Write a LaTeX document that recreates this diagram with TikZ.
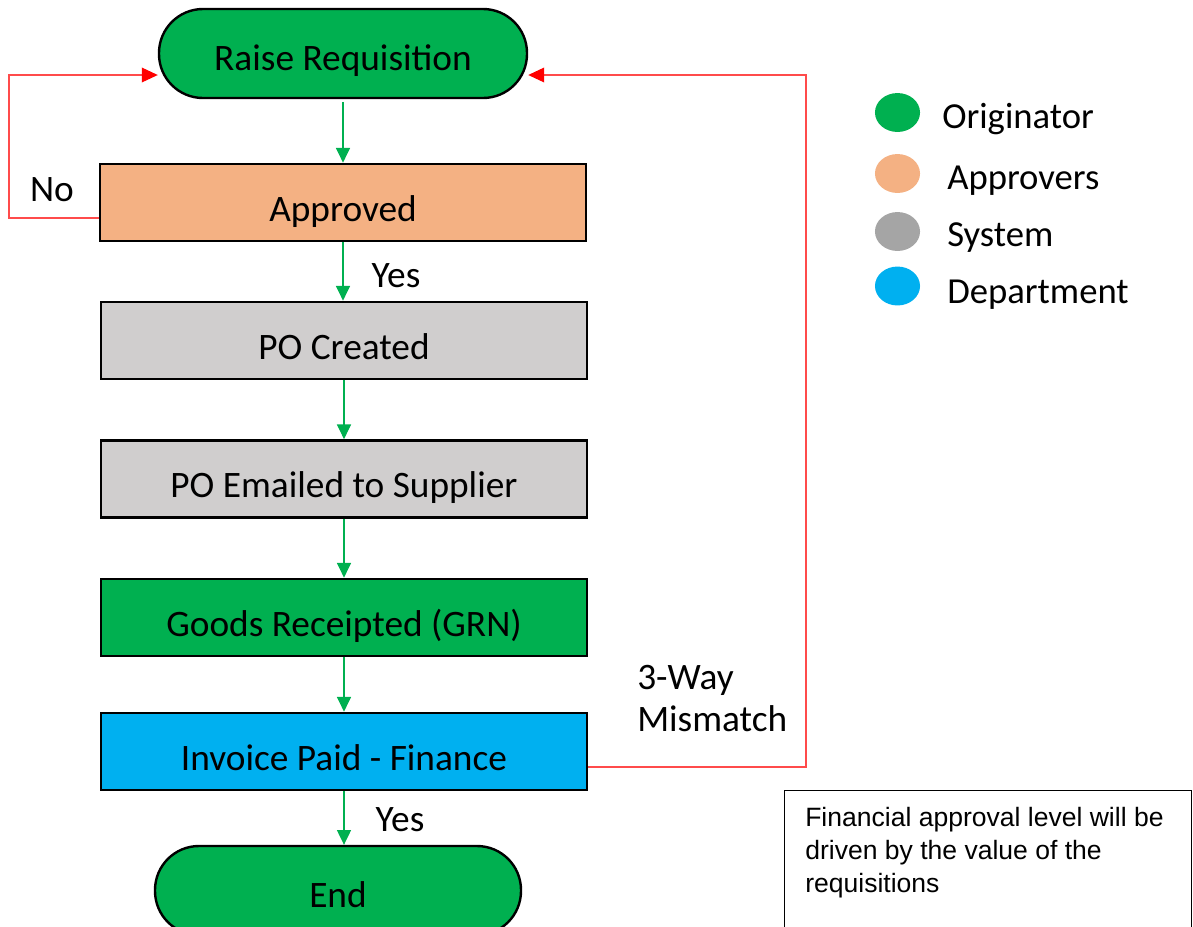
\documentclass[tikz,border=0pt]{standalone}
\usepackage{fontspec}
\setmainfont{Carlito}
\newfontfamily\notefont{Liberation Sans}
\usetikzlibrary{arrows.meta}
\definecolor{cgreen}{RGB}{0,176,80}
\definecolor{corange}{RGB}{244,177,131}
\definecolor{cgray}{RGB}{208,206,206}
\definecolor{clgray}{RGB}{165,165,165}
\definecolor{cblue}{RGB}{0,176,240}
\definecolor{cred}{RGB}{255,75,75}
\newcommand\flowfont{\fontsize{28}{32}\selectfont}
\tikzset{
  proc/.style={draw=black, line width=1.8pt, minimum width=364.5pt, minimum height=58pt, inner sep=0pt, text height=28pt, text depth=0pt, font=\flowfont},
  term/.style={draw=black, line width=1.8pt, minimum height=66.75pt, rounded corners=33pt, inner sep=0pt, text height=26pt, text depth=0pt, font=\flowfont},
  garrow/.style={draw=cgreen, line width=0.8pt, -{Triangle[width=10.5pt,length=11pt]}},
  rline/.style={draw=cred, line width=1pt, -{Triangle[width=11pt,length=12pt,color=red]}},
  lbl/.style={font=\flowfont, inner sep=0pt},
  legtxt/.style={font=\fontsize{27.5}{32}\selectfont, anchor=west, inner sep=0pt}
}
\begin{document}
\begin{tikzpicture}[x=0.75pt,y=-0.75pt]
\useasboundingbox (0,0) rectangle (1193,926);
\clip (0,0) rectangle (1193,926);
% flow nodes
\node[term, fill=cgreen, minimum width=276pt] (raise) at (343,53.5) {Raise Requisition};
\node[proc, fill=corange] (appr) at (343,202.5) {Approved};
\node[proc, fill=cgray] (poc) at (344,340.5) {PO Created};
\node[proc, fill=cgray] (poe) at (344,479) {PO Emailed to Supplier};
\node[proc, fill=cgreen] (grn) at (344,617.5) {Goods Receipted (GRN)};
\node[proc, fill=cblue] (inv) at (344,751.5) {Invoice Paid - Finance};
\node[term, fill=cgreen, minimum width=274.5pt] (end) at (338,890.5) {End};
% green connectors
\draw[garrow] ([yshift=-2pt]raise.south) -- (raise.south |- appr.north);
\draw[garrow] (appr.south) -- (appr.south |- poc.north);
\draw[garrow] (poc.south) -- (poe.north);
\draw[garrow] (poe.south) -- (grn.north);
\draw[garrow] (grn.south) -- (inv.north);
\draw[garrow] (inv.south) -- (inv.south |- end.north);
% red loops
\coordinate (nIn) at (raise.west |- 0,75);
\coordinate (mIn) at (raise.east |- 0,75);
\draw[rline] (appr.west |- 0,218) -- (9,218) |- (nIn);
\draw[rline] (inv.east |- 0,767) -| (806,75) -- (mIn);
% labels
\node[lbl] (no) at (52,190) {No};
\node[lbl] (yes1) at (396,276) {Yes};
\node[lbl] (yes2) at (400,820) {Yes};
\node[lbl, anchor=west, align=left, font=\fontsize{28}{31.5}\selectfont] (mism) at (637,699) {3-Way\\Mismatch};
% legend
\fill[cgreen] (897.5,112.5) ellipse [x radius=16.9pt, y radius=14.6pt];
\fill[corange] (897.5,173.5) ellipse [x radius=16.9pt, y radius=14.6pt];
\fill[clgray] (897.5,231.5) ellipse [x radius=16.9pt, y radius=14.6pt];
\fill[cblue] (897.5,286) ellipse [x radius=16.9pt, y radius=14.6pt];
\node[legtxt] (l1) at (942,119) {Originator};
\node[legtxt] (l2) at (947,181) {Approvers};
\node[legtxt] (l3) at (947,238) {System};
\node[legtxt] (l4) at (947,295) {Department};
% note
\node[draw=black, line width=1pt, anchor=north west, minimum width=305pt, minimum height=150pt, inner sep=0pt] (notebox) at (784,790) {};
\node[anchor=north west, align=left, inner sep=0pt, font=\notefont\fontsize{19.9}{24.75}\selectfont] (notetext) at (805,807) {Financial approval level will be\\driven by the value of the\\requisitions};
\end{tikzpicture}
\end{document}
